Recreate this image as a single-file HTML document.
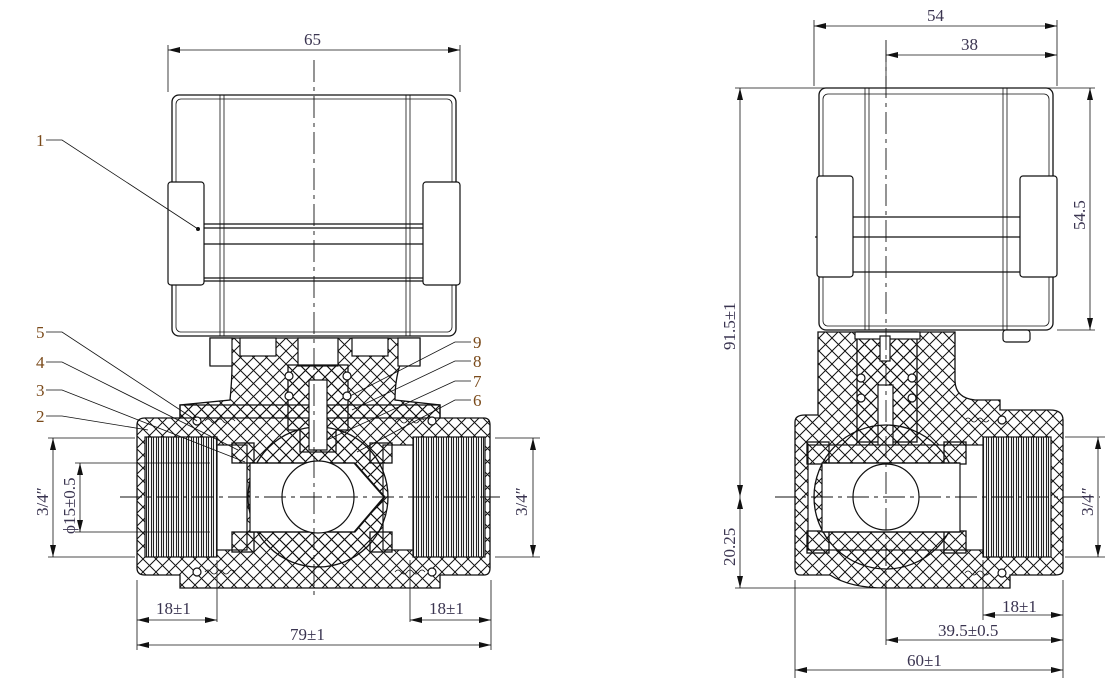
<!DOCTYPE html>
<html><head><meta charset="utf-8"><style>
html,body{margin:0;padding:0;background:#fff;}
svg{display:block}
text{font-family:"Liberation Serif",serif;font-size:17px;fill:#3a3450}
.o{fill:none;stroke:#111;stroke-width:1.3}
.t{fill:none;stroke:#111;stroke-width:0.8}
.h{fill:url(#hx);stroke:#111;stroke-width:1.3}
.w{fill:#fff;stroke:#111;stroke-width:1.2}
.c{stroke:#111;stroke-width:0.9;stroke-dasharray:22 5 4 5;fill:none}
.d{stroke:#111;stroke-width:0.8;fill:none}
.lb{fill:#7a4a1a}
</style></head><body>
<svg width="1117" height="692" viewBox="0 0 1117 692" xmlns="http://www.w3.org/2000/svg">
<defs>
<pattern id="hx" width="13" height="13" patternUnits="userSpaceOnUse">
<path d="M0 0L13 13M13 0L0 13" stroke="#111" stroke-width="1"/>
</pattern>
<pattern id="th" width="5" height="10" patternUnits="userSpaceOnUse">
<rect width="5" height="10" fill="#fff"/><path d="M1.5 0V10M3.5 0V10" stroke="#222" stroke-width="1.1"/>
</pattern>
<marker id="a" markerWidth="12" markerHeight="6" refX="12" refY="3" orient="auto-start-reverse" markerUnits="userSpaceOnUse"><path d="M0 0L12 3L0 6z" fill="#111"/></marker>
</defs>

<!-- ============ LEFT VIEW ============ -->
<rect x="172" y="95" width="284" height="241" rx="7" class="o"/>
<rect x="176" y="99" width="276" height="233" rx="5" class="t"/>
<path d="M220 95V336M224 95V336M406 95V336M410 95V336" class="t"/>
<path d="M204 224H423M204 228H423M168 244H460M204 278H423M204 281H423" class="o"/>
<rect x="168" y="182" width="36" height="103" rx="3" class="w"/>
<rect x="423" y="182" width="37" height="103" rx="3" class="w"/>
<circle cx="198" cy="229" r="2" fill="#111"/>
<path d="M210 338H420V365H400Q395 380 395 400L440 405V418H180V405L230 400Q232 380 232 365H210Z" class="h"/>
<rect x="210" y="338" width="22" height="28" class="w"/>
<rect x="398" y="338" width="22" height="28" class="w"/>
<rect x="240" y="338" width="36" height="18" class="w"/>
<rect x="352" y="338" width="36" height="18" class="w"/>
<rect x="298" y="338" width="40" height="28" class="w"/>
<path d="M137 425Q137 418 145 418H180V405H440V418H484Q490 418 490 425V568Q490 575 484 575H440V588H180V575H145Q137 575 137 568Z" class="h"/>
<rect x="145" y="437" width="72" height="120" fill="url(#th)" stroke="#111" stroke-width="1.2"/>
<rect x="413" y="437" width="72" height="120" fill="url(#th)" stroke="#111" stroke-width="1.2"/>
<rect x="217" y="445" width="30" height="105" class="w"/>
<rect x="383" y="445" width="30" height="105" class="w"/>
<rect x="232" y="443" width="22" height="20" class="h"/>
<rect x="232" y="532" width="22" height="20" class="h"/>
<rect x="370" y="443" width="22" height="20" class="h"/>
<rect x="370" y="532" width="22" height="20" class="h"/>
<circle cx="318" cy="497" r="70" class="h"/>
<path d="M250 463H355L385 497L355 532H250Z" class="w"/>
<path d="M250 463H354L384 497L354 532H250" class="o"/>
<circle cx="318" cy="497" r="36" class="w"/>
<path d="M288 365H348V430H336V452H300V430H288Z" class="h"/>
<rect x="309" y="380" width="18" height="70" class="w"/>
<circle cx="289" cy="376" r="4" class="w"/><circle cx="289" cy="396" r="4" class="w"/>
<circle cx="347" cy="376" r="4" class="w"/><circle cx="347" cy="396" r="4" class="w"/>
<circle cx="197" cy="421" r="4" class="w"/><circle cx="432" cy="421" r="4" class="w"/>
<circle cx="197" cy="572" r="4" class="w"/><circle cx="432" cy="572" r="4" class="w"/>
<path d="M205 421q3-4 6 0t6 0t6 0t6 0t6 0M395 421q3-4 6 0t6 0t6 0t6 0t6 0M205 572q3-4 6 0t6 0t6 0t6 0t6 0M395 572q3-4 6 0t6 0t6 0t6 0t6 0" class="t"/>
<path d="M314 60V600" class="c"/>
<path d="M120 497H500" class="c"/>
<path d="M168 45V92M460 45V92" class="d"/>
<path d="M168 50H460" class="d" marker-start="url(#a)" marker-end="url(#a)"/>
<text x="304" y="45">65</text>
<path d="M137 580V650M491 580V650M217 560V622M410 560V622" class="d"/>
<path d="M137 645H491" class="d" marker-start="url(#a)" marker-end="url(#a)"/>
<text x="290" y="640">79±1</text>
<path d="M137 620H217" class="d" marker-start="url(#a)" marker-end="url(#a)"/>
<text x="156" y="614">18±1</text>
<path d="M410 620H491" class="d" marker-start="url(#a)" marker-end="url(#a)"/>
<text x="429" y="614">18±1</text>
<path d="M48 438H135M48 557H135M75 463H210M75 532H210" class="d"/>
<path d="M53 438V557" class="d" marker-start="url(#a)" marker-end="url(#a)"/>
<path d="M80 463V532" class="d" marker-start="url(#a)" marker-end="url(#a)"/>
<text transform="translate(48,516) rotate(-90)">3/4″</text>
<text transform="translate(75,534) rotate(-90)">ϕ15±0.5</text>
<path d="M495 438H540M495 557H540" class="d"/>
<path d="M533 438V557" class="d" marker-start="url(#a)" marker-end="url(#a)"/>
<text transform="translate(527,516) rotate(-90)">3/4″</text>
<text x="36" y="146" class="lb">1</text><path d="M46 140H62L198 229" class="d"/>
<text x="36" y="338" class="lb">5</text><path d="M46 332H62L197 421" class="d"/>
<text x="36" y="368" class="lb">4</text><path d="M46 362H62L238 450" class="d"/>
<text x="36" y="396" class="lb">3</text><path d="M46 390H62L245 462" class="d"/>
<text x="36" y="422" class="lb">2</text><path d="M46 416H62L148 430" class="d"/>
<text x="473" y="348" class="lb">9</text><path d="M471 342H455L350 396" class="d"/>
<text x="473" y="367" class="lb">8</text><path d="M471 361H455L352 410" class="d"/>
<text x="473" y="387" class="lb">7</text><path d="M471 381H455L327 440" class="d"/>
<text x="473" y="406" class="lb">6</text><path d="M471 400H455L357 452" class="d"/>

<!-- ============ RIGHT VIEW ============ -->
<rect x="819" y="88" width="234" height="242" rx="7" class="o"/>
<rect x="823" y="94" width="226" height="232" rx="5" class="t"/>
<path d="M865 88V330M869 88V330M1003 88V330M1007 88V330" class="t"/>
<path d="M853 217H1020M815 237H1057M853 272H1020" class="o"/>
<rect x="817" y="176" width="36" height="101" rx="3" class="w"/>
<rect x="1020" y="176" width="37" height="101" rx="3" class="w"/>
<rect x="1003" y="330" width="27" height="12" rx="3" class="w"/>
<path d="M818 332H955V380Q955 398 975 400H1000V410H1050Q1063 410 1063 420V570Q1063 575 1055 575H1010V588H886Q850 588 830 575H800Q795 575 795 568V422Q795 415 805 415H818Z" class="h"/>
<rect x="857" y="332" width="60" height="110" class="h"/>
<rect x="855" y="332" width="65" height="7" class="w"/>
<rect x="878" y="385" width="15" height="65" class="w"/>
<rect x="880" y="336" width="10" height="25" class="w"/>
<circle cx="861" cy="378" r="4" class="w"/><circle cx="861" cy="398" r="4" class="w"/>
<circle cx="912" cy="378" r="4" class="w"/><circle cx="912" cy="398" r="4" class="w"/>
<rect x="808" y="445" width="200" height="105" class="w"/>
<rect x="807" y="442" width="22" height="22" class="h"/>
<rect x="807" y="531" width="22" height="22" class="h"/>
<rect x="944" y="442" width="22" height="22" class="h"/>
<rect x="944" y="531" width="22" height="22" class="h"/>
<circle cx="886" cy="497" r="72" class="h"/>
<path d="M822 463H960V532H822Z" class="w"/>
<path d="M822 463H960M822 532H960" class="o"/>
<circle cx="886" cy="497" r="33" class="w"/>
<rect x="983" y="437" width="68" height="120" fill="url(#th)" stroke="#111" stroke-width="1.2"/>
<circle cx="1002" cy="420" r="4" class="w"/><circle cx="1002" cy="573" r="4" class="w"/>
<path d="M965 420q3-4 6 0t6 0t6 0t6 0M965 573q3-4 6 0t6 0t6 0t6 0" class="t"/>
<path d="M886 40V600" class="c"/>
<path d="M775 497H1100" class="c"/>
<path d="M814 20V86M1057 20V86M886 50V86" class="d"/>
<path d="M814 26H1057" class="d" marker-start="url(#a)" marker-end="url(#a)"/>
<text x="927" y="21">54</text>
<path d="M886 55H1057" class="d" marker-start="url(#a)" marker-end="url(#a)"/>
<text x="961" y="50">38</text>
<path d="M735 88H1095M1057 330H1095M735 588H1010" class="d"/>
<path d="M1090 88V330" class="d" marker-start="url(#a)" marker-end="url(#a)"/>
<text transform="translate(1085,230) rotate(-90)">54.5</text>
<path d="M740 88V497" class="d" marker-start="url(#a)" marker-end="url(#a)"/>
<text transform="translate(735,350) rotate(-90)">91.5±1</text>
<path d="M740 497V588" class="d" marker-start="url(#a)" marker-end="url(#a)"/>
<text transform="translate(735,566) rotate(-90)">20.25</text>
<path d="M1065 437H1105M1065 557H1105" class="d"/>
<path d="M1098 437V557" class="d" marker-start="url(#a)" marker-end="url(#a)"/>
<text transform="translate(1093,516) rotate(-90)">3/4″</text>
<path d="M795 580V678M1063 580V678M983 560V620M886 600V645" class="d"/>
<path d="M983 615H1063" class="d" marker-start="url(#a)" marker-end="url(#a)"/>
<text x="1002" y="612">18±1</text>
<path d="M886 640H1063" class="d" marker-start="url(#a)" marker-end="url(#a)"/>
<text x="938" y="636">39.5±0.5</text>
<path d="M795 670H1063" class="d" marker-start="url(#a)" marker-end="url(#a)"/>
<text x="907" y="666">60±1</text>
</svg>
</body></html>
